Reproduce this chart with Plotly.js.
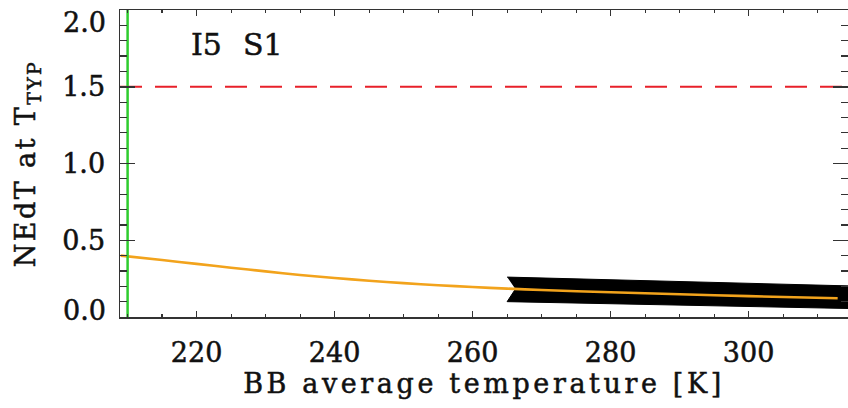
<!DOCTYPE html>
<html>
<head>
<meta charset="utf-8">
<script src="https://cdn.plot.ly/plotly-3.0.1.min.js"></script>
<style>
html,body{margin:0;padding:0;background:#fff;}
#plot{width:848px;height:408px;}
#plot text{stroke:#111;stroke-width:0.5px;}
#plot text.xtitle{letter-spacing:3.6px;}
#plot text.ytitle{letter-spacing:2.4px;}
</style>
</head>
<body>
<div id="plot"></div>
<script>
// Orange NEdT curve
const curveTemp = [209, 215, 220, 225, 230, 235, 240, 245, 250, 255, 260, 265, 270, 280, 290, 300, 312.9];
const curveNEdT = [0.400, 0.371, 0.346, 0.321, 0.297, 0.274, 0.254, 0.236, 0.221, 0.207, 0.195, 0.185, 0.176, 0.161, 0.148, 0.136, 0.122];
// Black band of measurements
const bandTemp  = [265.0, 280, 300, 316];
const bandUpper = [0.260, 0.242, 0.219, 0.201];
const bandLower = [0.100, 0.087, 0.069, 0.054];
const bandNotchTemp = 266.2;
const bandNotchValue = 0.182;
// Reference lines
const thresholdNEdT = 1.5;
const minTemp = 210;
// Axes
const xRange = [208.9, 314.4];
const yRange = [0, 2.0];
const yTickVals = [0.5, 1.0, 1.5];
const yTickText = ['0.5', '1.0', '1.5'];
const yEdgeLabels = ['0.0', '2.0'];
const panelLabel = 'I5\u2002\u2009S1';

const polyX = bandTemp.concat(bandTemp.slice().reverse(), [bandNotchTemp]);
const polyY = bandUpper.concat(bandLower.slice().reverse(), [bandNotchValue]);

const font = 'DejaVu Serif, serif';
const traces = [
  {x: polyX, y: polyY, type: 'scatter', mode: 'lines', fill: 'toself',
   fillcolor: '#000', line: {color: '#000', width: 1}, hoverinfo: 'skip'},
  {x: curveTemp, y: curveNEdT, type: 'scatter', mode: 'lines',
   line: {color: '#f2a31c', width: 2.6, shape: 'spline', smoothing: 0.6}},
  {x: xRange, y: [thresholdNEdT, thresholdNEdT], type: 'scatter', mode: 'lines',
   line: {color: '#e8202a', width: 2, dash: '22px,13px'}},
  {x: [minTemp, minTemp], y: yRange, type: 'scatter', mode: 'lines',
   line: {color: '#2ecc2e', width: 2.5}}
];

const layout = {
  width: 848, height: 408,
  margin: {l: 120, r: 0, t: 10, b: 91.3},
  paper_bgcolor: '#fff', plot_bgcolor: '#fff',
  showlegend: false,
  font: {family: font, color: '#111', size: 27},
  xaxis: {
    range: xRange, dtick: 20, tick0: 220,
    ticks: 'inside', ticklen: 6, tickwidth: 1.5, tickcolor: '#333',
    minor: {dtick: 5, ticklen: 3, tickwidth: 1.2, tickcolor: '#333', ticks: 'inside'},
    showline: true, linecolor: '#333', linewidth: 1.5, mirror: 'allticks',
    showgrid: false, zeroline: false,
    tickfont: {family: font, size: 27, color: '#111'},
    ticklabelstandoff: 11,
    title: {text: 'BB average temperature [K]', font: {family: font, size: 27, color: '#111'}, standoff: 6}
  },
  yaxis: {
    range: yRange, tickvals: yTickVals, ticktext: yTickText,
    ticks: 'inside', ticklen: 15, tickwidth: 1.5, tickcolor: '#333',
    minor: {dtick: 0.1, ticklen: 7, tickwidth: 1.2, tickcolor: '#333', ticks: 'inside'},
    showline: true, linecolor: '#333', linewidth: 1.5, mirror: 'allticks',
    showgrid: false, zeroline: false,
    tickfont: {family: font, size: 27, color: '#111'},
    ticklabelstandoff: 8,
    title: {text: 'NEdT at T<sub>TYP</sub>', font: {family: font, size: 27, color: '#111'}, standoff: 18}
  },
  annotations: [
    {text: panelLabel, xref: 'paper', yref: 'paper', x: 0.161, y: 0.886,
     xanchor: 'center', yanchor: 'middle',
     showarrow: false, font: {family: font, size: 30, color: '#111'}},
    {text: yEdgeLabels[1], xref: 'paper', yref: 'y', x: 0, y: yRange[1], xanchor: 'right', yanchor: 'middle',
     xshift: -12, yshift: -12, showarrow: false, font: {family: font, size: 27, color: '#111'}},
    {text: yEdgeLabels[0], xref: 'paper', yref: 'y', x: 0, y: yRange[0], xanchor: 'right', yanchor: 'middle',
     xshift: -12, yshift: 7, showarrow: false, font: {family: font, size: 27, color: '#111'}}
  ]
};

Plotly.newPlot('plot', traces, layout, {displayModeBar: false, staticPlot: true});
</script>
</body>
</html>
